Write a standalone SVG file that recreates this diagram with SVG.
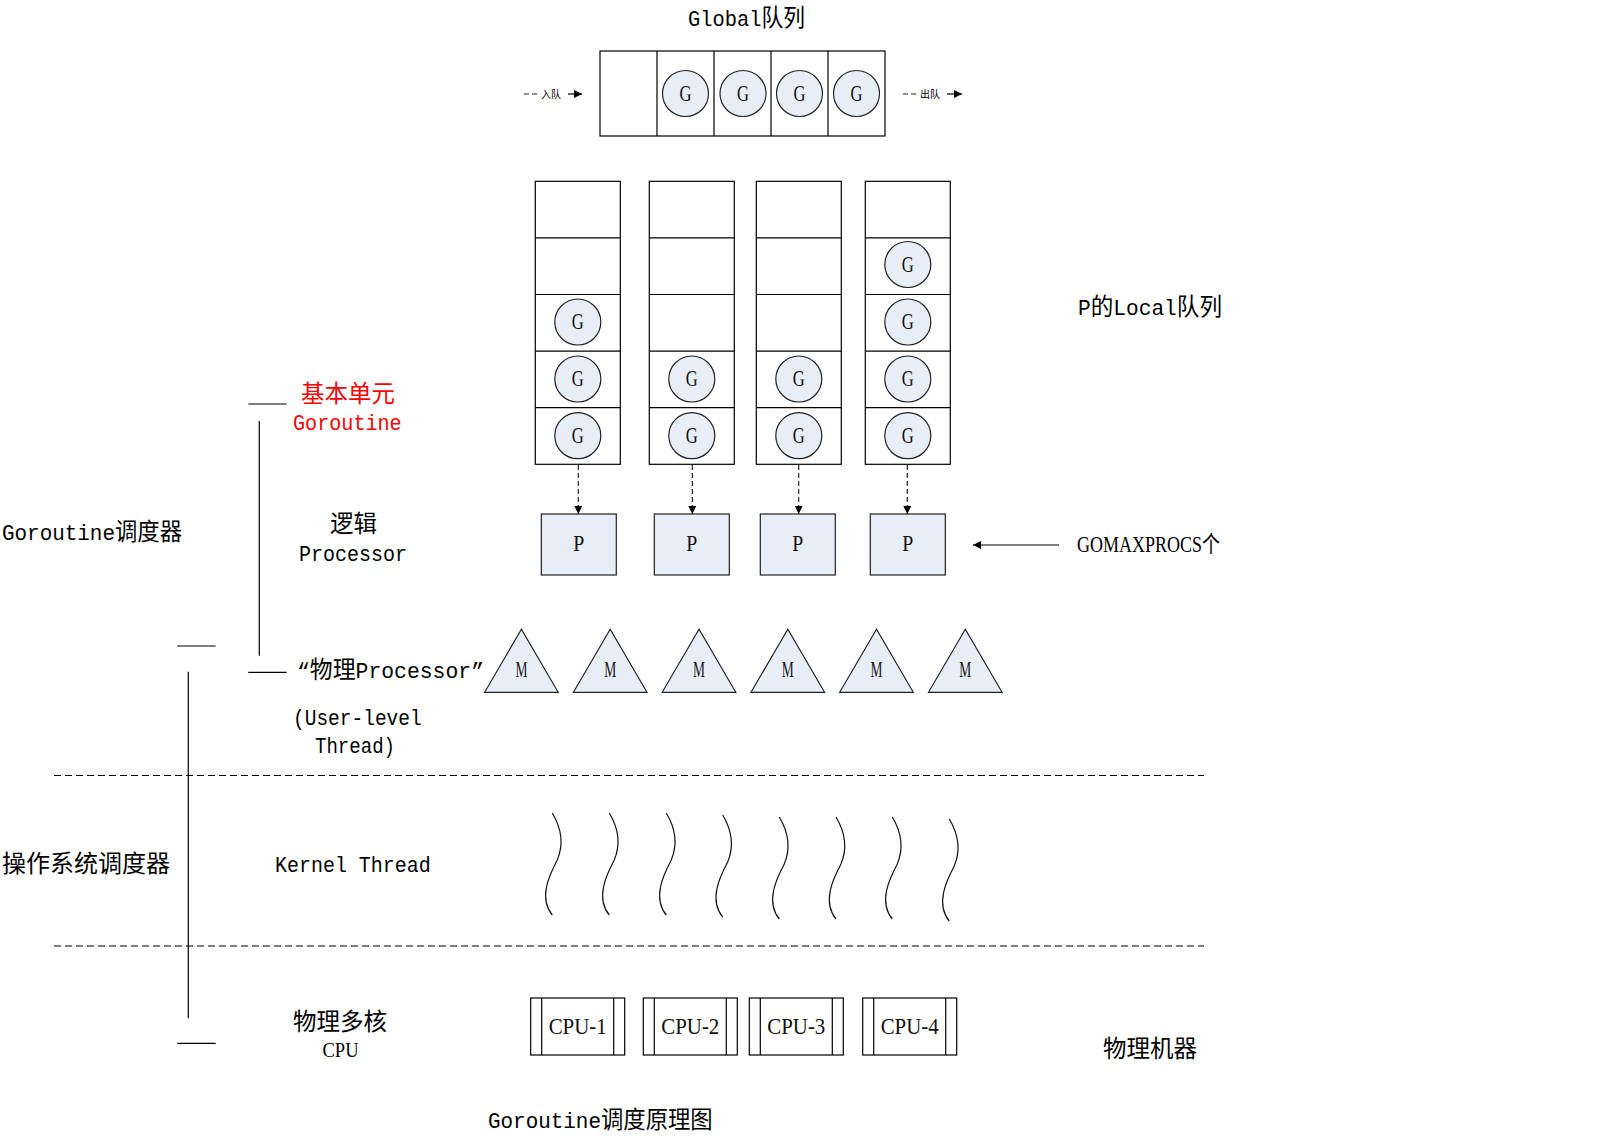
<svg xmlns="http://www.w3.org/2000/svg" width="1600" height="1142" viewBox="0 0 1600 1142">
  <defs>
    <style>
      .t { font-family: "Liberation Mono", "Noto Sans CJK SC", monospace; font-size: 22px; fill: #000; }
      .c { font-family: "Noto Sans CJK SC", sans-serif; font-size: 23.5px; }
      .red { fill: #ff0000; }
      .lbl { font-family: "Liberation Serif", "Noto Sans CJK SC", serif; font-size: 23px; fill: #111; text-anchor: middle; }
      .cell { fill: #ffffff; stroke: #000; stroke-width: 1.2; }
      .g { fill: #e8eef8; stroke: #222; stroke-width: 1.2; }
      .blue { fill: #e8eef8; stroke: #222; stroke-width: 1.2; }
      .ln { stroke: #000; stroke-width: 1.2; fill: none; }
      .dash { stroke: #000; stroke-width: 1.2; stroke-dasharray: 7 4; fill: none; }
      .darrow { stroke: #222; stroke-width: 1.2; stroke-dasharray: 5 3; fill: none; }
      .wave { stroke: #111; stroke-width: 1.2; fill: none; }
      .small { font-family: "Noto Sans CJK SC", sans-serif; font-size: 10px; fill: #000; }
    </style>
    <marker id="arr" viewBox="0 0 10 10" refX="10" refY="5" markerWidth="8" markerHeight="8" markerUnits="userSpaceOnUse" orient="auto">
      <path d="M0,0 L10,5 L0,10 Z" fill="#000"/>
    </marker>
    <path id="thread" d="M0,0 C9,15 12,30 5,47 C-3,62 -14,85 0,102"/>
  </defs>

  <rect width="1600" height="1142" fill="#ffffff"/>

  <!-- Global run queue -->
  <g id="global-queue">
    <text class="t" x="688" y="26" textLength="117" lengthAdjust="spacingAndGlyphs">Global<tspan class="c">队列</tspan></text>
    <rect class="cell" x="600" y="51" width="285" height="85"/>
    <line class="ln" x1="657" y1="51" x2="657" y2="136"/>
    <line class="ln" x1="714" y1="51" x2="714" y2="136"/>
    <line class="ln" x1="771" y1="51" x2="771" y2="136"/>
    <line class="ln" x1="828" y1="51" x2="828" y2="136"/>
    <circle class="g" cx="685.5" cy="93.5" r="23"/>
    <text class="lbl" x="685.5" y="100.5" textLength="12" lengthAdjust="spacingAndGlyphs">G</text>
    <circle class="g" cx="743" cy="93.5" r="23"/>
    <text class="lbl" x="743" y="100.5" textLength="12" lengthAdjust="spacingAndGlyphs">G</text>
    <circle class="g" cx="799.5" cy="93.5" r="23"/>
    <text class="lbl" x="799.5" y="100.5" textLength="12" lengthAdjust="spacingAndGlyphs">G</text>
    <circle class="g" cx="856.5" cy="93.5" r="23"/>
    <text class="lbl" x="856.5" y="100.5" textLength="12" lengthAdjust="spacingAndGlyphs">G</text>
  </g>

  <g id="enqueue">
    <line class="darrow" x1="524" y1="94" x2="540" y2="94" stroke-dasharray="4 3"/>
    <text class="small" x="541" y="98">入队</text>
    <line class="ln" x1="568" y1="94" x2="582" y2="94" marker-end="url(#arr)"/>
  </g>
  <g id="dequeue">
    <line class="darrow" x1="903" y1="94" x2="919" y2="94" stroke-dasharray="4 3"/>
    <text class="small" x="920" y="98">出队</text>
    <line class="ln" x1="947" y1="94" x2="962" y2="94" marker-end="url(#arr)"/>
  </g>

  <!-- Local run queues of each P -->
  <g id="local-queue-1">
    <rect class="cell" x="535.3" y="181.3" width="85" height="283"/>
    <line class="ln" x1="535.3" y1="237.9" x2="620.3" y2="237.9"/>
    <line class="ln" x1="535.3" y1="294.5" x2="620.3" y2="294.5"/>
    <line class="ln" x1="535.3" y1="351.1" x2="620.3" y2="351.1"/>
    <line class="ln" x1="535.3" y1="407.7" x2="620.3" y2="407.7"/>
    <circle class="g" cx="577.8" cy="322" r="23"/><text class="lbl" x="577.8" y="329" textLength="12" lengthAdjust="spacingAndGlyphs">G</text>
    <circle class="g" cx="577.8" cy="379" r="23"/><text class="lbl" x="577.8" y="386" textLength="12" lengthAdjust="spacingAndGlyphs">G</text>
    <circle class="g" cx="577.8" cy="435.7" r="23"/><text class="lbl" x="577.8" y="442.7" textLength="12" lengthAdjust="spacingAndGlyphs">G</text>
  </g>
  <g id="local-queue-2">
    <rect class="cell" x="649.3" y="181.3" width="85" height="283"/>
    <line class="ln" x1="649.3" y1="237.9" x2="734.3" y2="237.9"/>
    <line class="ln" x1="649.3" y1="294.5" x2="734.3" y2="294.5"/>
    <line class="ln" x1="649.3" y1="351.1" x2="734.3" y2="351.1"/>
    <line class="ln" x1="649.3" y1="407.7" x2="734.3" y2="407.7"/>
    <circle class="g" cx="691.8" cy="379" r="23"/><text class="lbl" x="691.8" y="386" textLength="12" lengthAdjust="spacingAndGlyphs">G</text>
    <circle class="g" cx="691.8" cy="435.7" r="23"/><text class="lbl" x="691.8" y="442.7" textLength="12" lengthAdjust="spacingAndGlyphs">G</text>
  </g>
  <g id="local-queue-3">
    <rect class="cell" x="756.3" y="181.3" width="85" height="283"/>
    <line class="ln" x1="756.3" y1="237.9" x2="841.3" y2="237.9"/>
    <line class="ln" x1="756.3" y1="294.5" x2="841.3" y2="294.5"/>
    <line class="ln" x1="756.3" y1="351.1" x2="841.3" y2="351.1"/>
    <line class="ln" x1="756.3" y1="407.7" x2="841.3" y2="407.7"/>
    <circle class="g" cx="798.8" cy="379" r="23"/><text class="lbl" x="798.8" y="386" textLength="12" lengthAdjust="spacingAndGlyphs">G</text>
    <circle class="g" cx="798.8" cy="435.7" r="23"/><text class="lbl" x="798.8" y="442.7" textLength="12" lengthAdjust="spacingAndGlyphs">G</text>
  </g>
  <g id="local-queue-4">
    <rect class="cell" x="865.3" y="181.3" width="85" height="283"/>
    <line class="ln" x1="865.3" y1="237.9" x2="950.3" y2="237.9"/>
    <line class="ln" x1="865.3" y1="294.5" x2="950.3" y2="294.5"/>
    <line class="ln" x1="865.3" y1="351.1" x2="950.3" y2="351.1"/>
    <line class="ln" x1="865.3" y1="407.7" x2="950.3" y2="407.7"/>
    <circle class="g" cx="907.8" cy="264.5" r="23"/><text class="lbl" x="907.8" y="271.5" textLength="12" lengthAdjust="spacingAndGlyphs">G</text>
    <circle class="g" cx="907.8" cy="322" r="23"/><text class="lbl" x="907.8" y="329" textLength="12" lengthAdjust="spacingAndGlyphs">G</text>
    <circle class="g" cx="907.8" cy="379" r="23"/><text class="lbl" x="907.8" y="386" textLength="12" lengthAdjust="spacingAndGlyphs">G</text>
    <circle class="g" cx="907.8" cy="435.7" r="23"/><text class="lbl" x="907.8" y="442.7" textLength="12" lengthAdjust="spacingAndGlyphs">G</text>
  </g>

  <!-- Processors -->
  <g id="p1"><rect class="blue" x="541.3" y="514" width="75" height="61"/><text class="lbl" x="578.8" y="551" textLength="11" lengthAdjust="spacingAndGlyphs">P</text></g>
  <g id="p2"><rect class="blue" x="654.3" y="514" width="75" height="61"/><text class="lbl" x="691.8" y="551" textLength="11" lengthAdjust="spacingAndGlyphs">P</text></g>
  <g id="p3"><rect class="blue" x="760.3" y="514" width="75" height="61"/><text class="lbl" x="797.8" y="551" textLength="11" lengthAdjust="spacingAndGlyphs">P</text></g>
  <g id="p4"><rect class="blue" x="870.3" y="514" width="75" height="61"/><text class="lbl" x="907.8" y="551" textLength="11" lengthAdjust="spacingAndGlyphs">P</text></g>

  <!-- Machines (OS threads bound to P) -->
  <g id="m1"><polygon class="blue" points="521.4,629.3 484.6,692.3 558.2,692.3"/><text class="lbl" x="521.4" y="677" textLength="12" lengthAdjust="spacingAndGlyphs">M</text></g>
  <g id="m2"><polygon class="blue" points="610.2,629.3 573.4,692.3 647,692.3"/><text class="lbl" x="610.2" y="677" textLength="12" lengthAdjust="spacingAndGlyphs">M</text></g>
  <g id="m3"><polygon class="blue" points="699,629.3 662.2,692.3 735.8,692.3"/><text class="lbl" x="699" y="677" textLength="12" lengthAdjust="spacingAndGlyphs">M</text></g>
  <g id="m4"><polygon class="blue" points="787.8,629.3 751,692.3 824.6,692.3"/><text class="lbl" x="787.8" y="677" textLength="12" lengthAdjust="spacingAndGlyphs">M</text></g>
  <g id="m5"><polygon class="blue" points="876.5,629.3 839.7,692.3 913.3,692.3"/><text class="lbl" x="876.5" y="677" textLength="12" lengthAdjust="spacingAndGlyphs">M</text></g>
  <g id="m6"><polygon class="blue" points="965.3,629.3 928.5,692.3 1002.1,692.3"/><text class="lbl" x="965.3" y="677" textLength="12" lengthAdjust="spacingAndGlyphs">M</text></g>

  <!-- Kernel threads -->
  <g id="kernel-threads">
    <use href="#thread" class="wave" x="552.3" y="813"/>
    <use href="#thread" class="wave" x="609.3" y="813"/>
    <use href="#thread" class="wave" x="666.3" y="813"/>
    <use href="#thread" class="wave" x="722.7" y="815"/>
    <use href="#thread" class="wave" x="779.3" y="817"/>
    <use href="#thread" class="wave" x="836" y="817"/>
    <use href="#thread" class="wave" x="892.3" y="817"/>
    <use href="#thread" class="wave" x="949.3" y="819"/>
  </g>

  <!-- Physical CPUs -->
  <g id="cpu1"><rect class="cell" x="530.7" y="998" width="94" height="57"/><line class="ln" x1="541.7" y1="998" x2="541.7" y2="1055"/><line class="ln" x1="613.7" y1="998" x2="613.7" y2="1055"/><text class="lbl" x="577.7" y="1034" textLength="58" lengthAdjust="spacingAndGlyphs">CPU-1</text></g>
  <g id="cpu2"><rect class="cell" x="643.3" y="998" width="94" height="57"/><line class="ln" x1="654.3" y1="998" x2="654.3" y2="1055"/><line class="ln" x1="726.3" y1="998" x2="726.3" y2="1055"/><text class="lbl" x="690.3" y="1034" textLength="58" lengthAdjust="spacingAndGlyphs">CPU-2</text></g>
  <g id="cpu3"><rect class="cell" x="749.3" y="998" width="94" height="57"/><line class="ln" x1="760.3" y1="998" x2="760.3" y2="1055"/><line class="ln" x1="832.3" y1="998" x2="832.3" y2="1055"/><text class="lbl" x="796.3" y="1034" textLength="58" lengthAdjust="spacingAndGlyphs">CPU-3</text></g>
  <g id="cpu4"><rect class="cell" x="862.7" y="998" width="94" height="57"/><line class="ln" x1="873.7" y1="998" x2="873.7" y2="1055"/><line class="ln" x1="945.7" y1="998" x2="945.7" y2="1055"/><text class="lbl" x="909.7" y="1034" textLength="58" lengthAdjust="spacingAndGlyphs">CPU-4</text></g>

  <!-- Connectors -->
  <g id="connectors">
    <line class="darrow" x1="578.3" y1="465" x2="578.3" y2="514" marker-end="url(#arr)"/>
    <line class="darrow" x1="692.3" y1="465" x2="692.3" y2="514" marker-end="url(#arr)"/>
    <line class="darrow" x1="798.7" y1="465" x2="798.7" y2="514" marker-end="url(#arr)"/>
    <line class="darrow" x1="907.3" y1="465" x2="907.3" y2="514" marker-end="url(#arr)"/>
    <line class="ln" x1="1059" y1="545" x2="973" y2="545" marker-end="url(#arr)"/>
  </g>

  <!-- Layer brackets and separators -->
  <g id="brackets">
    <line class="ln" x1="248.3" y1="404" x2="286.7" y2="404"/>
    <line class="ln" x1="259.3" y1="421" x2="259.3" y2="655.7"/>
    <line class="ln" x1="248.3" y1="672.3" x2="286.7" y2="672.3"/>
    <line class="ln" x1="177.3" y1="646" x2="215.7" y2="646"/>
    <line class="ln" x1="188.3" y1="671.7" x2="188.3" y2="1018.3"/>
    <line class="ln" x1="177.3" y1="1043.3" x2="215.7" y2="1043.3"/>
    <line class="dash" x1="54" y1="775.5" x2="1204" y2="775.5"/>
    <line class="dash" x1="54" y1="946" x2="1204" y2="946"/>
  </g>

  <!-- Labels -->
  <g id="labels">
    <text class="t" x="1078" y="315" textLength="144" lengthAdjust="spacingAndGlyphs">P<tspan class="c">的</tspan>Local<tspan class="c">队列</tspan></text>
    <text x="1077" y="552" textLength="143" lengthAdjust="spacingAndGlyphs" style="font-family:'Liberation Serif','Noto Sans CJK SC',serif;font-size:23px">GOMAXPROCS个</text>
    <text class="t red" x="301" y="402"><tspan class="c">基本单元</tspan></text>
    <text class="t red" x="293" y="430" textLength="108.7" lengthAdjust="spacingAndGlyphs">Goroutine</text>
    <text class="t" x="330" y="532"><tspan class="c">逻辑</tspan></text>
    <text class="t" x="299" y="561" textLength="108" lengthAdjust="spacingAndGlyphs">Processor</text>
    <text class="t" x="2" y="540" textLength="180" lengthAdjust="spacingAndGlyphs">Goroutine<tspan class="c">调度器</tspan></text>
    <text class="t" x="297" y="678" textLength="187" lengthAdjust="spacingAndGlyphs">“<tspan class="c">物理</tspan>Processor”</text>
    <text class="t" x="293" y="725" textLength="128.7" lengthAdjust="spacingAndGlyphs">(User-level</text>
    <text class="t" x="315" y="753" textLength="80" lengthAdjust="spacingAndGlyphs">Thread)</text>
    <text class="t" x="2" y="872"><tspan class="c" style="font-size:24px">操作系统调度器</tspan></text>
    <text class="t" x="275" y="872" textLength="155.7" lengthAdjust="spacingAndGlyphs">Kernel Thread</text>
    <text class="t" x="293" y="1030"><tspan class="c">物理多核</tspan></text>
    <text x="340.5" y="1057" textLength="36" lengthAdjust="spacingAndGlyphs" style="font-family:'Liberation Serif',serif;font-size:22px;text-anchor:middle">CPU</text>
    <text class="t" x="1103" y="1057"><tspan class="c">物理机器</tspan></text>
    <text class="t" x="488" y="1128" textLength="224.7" lengthAdjust="spacingAndGlyphs">Goroutine<tspan class="c">调度原理图</tspan></text>
  </g>
</svg>
